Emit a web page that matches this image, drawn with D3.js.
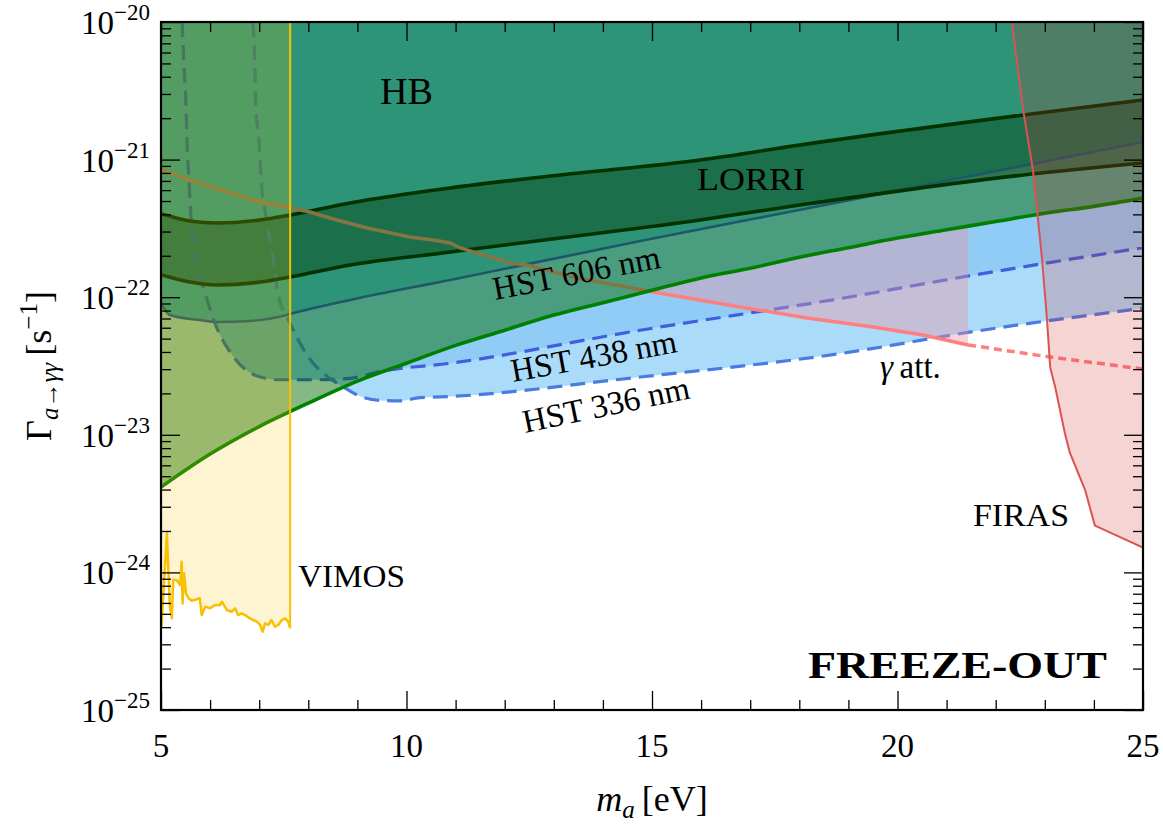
<!DOCTYPE html>
<html>
<head>
<meta charset="utf-8">
<script src="https://cdn.jsdelivr.net/npm/d3@7"></script>
<style>
  body { margin: 0; background: #ffffff; }
  text { font-family: "Liberation Serif", "Times New Roman", serif; fill: #000; }
</style>
</head>
<body>
<svg id="chart" width="1163" height="828"></svg>
<script>
// ---------------------------------------------------------------
// Axis ranges and ticks
// ---------------------------------------------------------------
const massRange = [5, 25];          // m_a [eV]
const rateRange = [1e-25, 1e-20];   // Γ [s^-1]
const xMajorTicks = [5, 10, 15, 20, 25];
const xMinorTicks = [6, 7, 8, 9, 11, 12, 13, 14, 16, 17, 18, 19, 21, 22, 23, 24];
const yExponents = [-25, -24, -23, -22, -21, -20];

// ---------------------------------------------------------------
// Bounds, mass in eV and log10 of the decay rate in s^-1
// ---------------------------------------------------------------
// Horizontal-branch stars
const hbMass = [5, 6, 7, 8, 9, 10, 11, 12, 13, 14, 15, 16, 17, 18, 19, 20, 21, 22, 23, 24, 25];
const hbLog  = [-23.38, -23.14, -22.94, -22.77, -22.61, -22.48, -22.35, -22.24, -22.13, -22.04,
                -21.95, -21.86, -21.79, -21.71, -21.64, -21.57, -21.51, -21.45, -21.39, -21.34, -21.28];

// LORRI (New Horizons) band
const lorriMass     = [5.02, 5.59, 6.14, 7.02, 7.63, 8.85, 10.89, 13.13, 15.98, 18.01, 22.56, 25.0];
const lorriUpperLog = [-21.395, -21.446, -21.461, -21.439, -21.403, -21.315, -21.206, -21.112, -21.003, -20.894, -20.676, -20.567];
const lorriLowerLog = [-21.839, -21.890, -21.911, -21.890, -21.853, -21.766, -21.672, -21.570, -21.439, -21.330, -21.112, -21.025];

// HST filters
const hst606Mass = [5.02, 5.18, 5.79, 6.14, 6.81, 7.48, 7.63, 8.85, 10.89, 14.76, 18.83, 20.87, 25.0];
const hst606Log  = [-22.057, -22.129, -22.166, -22.180, -22.173, -22.137, -22.122, -22.020, -21.875, -21.592, -21.308, -21.163, -20.872];

const hst438Mass = [5.43, 5.47, 5.51, 5.53, 5.57, 5.61, 5.71, 5.90, 6.10, 6.47, 7.02, 7.42, 8.24, 8.85, 9.46, 10.89, 14.76, 18.83, 21.54, 25.0];
const hst438Log  = [-20.00, -20.33, -20.62, -20.88, -21.15, -21.42, -21.71, -21.97, -22.19, -22.43, -22.58, -22.60, -22.60, -22.59, -22.54, -22.48, -22.24, -22.01, -21.84, -21.64];

const hst336Mass = [6.87, 6.91, 6.93, 7.00, 7.04, 7.14, 7.28, 7.38, 7.63, 8.10, 8.44, 8.75, 8.99, 9.46, 9.87, 10.27, 10.68, 14.76, 18.83, 21.54, 25.0];
const hst336Log  = [-20.00, -20.30, -20.62, -20.88, -21.15, -21.42, -21.71, -21.97, -22.19, -22.48, -22.59, -22.66, -22.71, -22.75, -22.754, -22.73, -22.725, -22.58, -22.41, -22.25, -22.08];

// Photon attenuation (solid part, then extrapolated part)
const gammaAttMass = [5.02, 5.59, 6.34, 7.02, 7.57, 8.03, 8.58, 9.20, 10.07, 10.54, 10.89, 11.09, 12.11, 12.45, 13.39, 15.02, 16.79, 18.16, 19.50, 20.52, 21.44];
const gammaAttLog  = [-21.076, -21.148, -21.235, -21.308, -21.344, -21.381, -21.439, -21.497, -21.562, -21.584, -21.606, -21.642, -21.751, -21.766, -21.853, -21.962, -22.071, -22.151, -22.217, -22.275, -22.347];
const gammaAttExtMass = [21.44, 23.11, 25.0];
const gammaAttExtLog  = [-22.347, -22.435, -22.522];
const gammaAttFillFrom = 15.02;

// FIRAS
const firasMass = [22.33, 22.56, 22.76, 22.94, 23.04, 23.11, 23.21, 23.41, 23.51, 23.82, 24.02, 25.0];
const firasLog  = [-20.00, -20.64, -21.08, -21.71, -22.14, -22.51, -22.65, -22.99, -23.13, -23.40, -23.66, -23.82];

// VIMOS
const vimosMass = [5.01, 5.05, 5.12, 5.18, 5.22, 5.25, 5.32, 5.39, 5.42, 5.44, 5.47, 5.51, 5.56, 5.63, 5.79, 5.83,
                   5.90, 6.00, 6.10, 6.20, 6.24, 6.34, 6.44, 6.51, 6.57, 6.64, 6.71, 6.81, 6.88, 6.95, 7.02, 7.07,
                   7.12, 7.19, 7.25, 7.32, 7.39, 7.46, 7.53, 7.59, 7.63];
const vimosLog  = [-24.395, -24.152, -23.716, -24.249, -24.334, -24.055, -24.055, -24.092, -23.922, -24.225, -24.007,
                   -24.152, -24.188, -24.206, -24.188, -24.310, -24.249, -24.261, -24.237, -24.237, -24.213, -24.273,
                   -24.286, -24.261, -24.310, -24.297, -24.310, -24.334, -24.346, -24.358, -24.382, -24.431, -24.370,
                   -24.382, -24.346, -24.395, -24.382, -24.346, -24.334, -24.358, -24.406];

// ---------------------------------------------------------------
// Layout and scales
// ---------------------------------------------------------------
const svg = d3.select("#chart");
const frame = { left: 161, right: 1143, top: 22, bottom: 710 };
const x = d3.scaleLinear().domain(massRange).range([frame.left, frame.right]);
const y = d3.scaleLog().domain(rateRange).range([frame.bottom, frame.top]);

const pts = (ms, ls) => ms.map((m, i) => [m, ls[i]]);
const X = d => x(d[0]);
const Y = d => y(Math.pow(10, d[1]));
const yTop = () => y(rateRange[1]);
const yBottom = () => y(rateRange[0]);

const smoothLine = d3.line().x(X).y(Y).curve(d3.curveMonotoneX);
const straightLine = d3.line().x(X).y(Y);
const smoothToTop = d3.area().x(X).y0(Y).y1(yTop).curve(d3.curveMonotoneX);
const straightToTop = d3.area().x(X).y0(Y).y1(yTop);

const defs = svg.append("defs");
defs.append("clipPath").attr("id", "plot-clip")
  .append("rect").attr("x", frame.left).attr("y", frame.top)
  .attr("width", frame.right - frame.left).attr("height", frame.bottom - frame.top);
defs.append("clipPath").attr("id", "below-hb")
  .append("path")
  .attr("d", d3.area().x(X).y0(Y).y1(yBottom).curve(d3.curveMonotoneX)(pts(hbMass, hbLog)));

const plot = svg.append("g").attr("clip-path", "url(#plot-clip)");

// HST excluded regions
const hst336 = pts(hst336Mass, hst336Log);
const hst438 = pts(hst438Mass, hst438Log);
const hst606 = pts(hst606Mass, hst606Log);
plot.append("path").attr("d", smoothToTop(hst336)).attr("fill", "#aadcfa");
plot.append("path").attr("d", smoothToTop(hst438)).attr("fill", "#90ccf5");
plot.append("path").attr("d", smoothToTop(hst606)).attr("fill", "#58bae7");

// LORRI band
const lorriUpper = pts(lorriMass, lorriUpperLog);
const lorriLower = pts(lorriMass, lorriLowerLog);
plot.append("path")
  .attr("d", d3.area().x(X).y0((d, i) => Y(lorriLower[i])).y1(Y).curve(d3.curveMonotoneX)(lorriUpper))
  .attr("fill", "#000").attr("fill-opacity", 0.375);

// boundary lines
plot.append("path").attr("d", smoothLine(hst606))
  .attr("fill", "none").attr("stroke", "#3c46c8").attr("stroke-width", 2.6);
plot.append("path").attr("d", smoothLine(hst438))
  .attr("fill", "none").attr("stroke", "#3f5fdc").attr("stroke-width", 3.2).attr("stroke-dasharray", "15,8");
plot.append("path").attr("d", smoothLine(hst336))
  .attr("fill", "none").attr("stroke", "#4a7be2").attr("stroke-width", 3.2).attr("stroke-dasharray", "15,8");
[lorriUpper, lorriLower].forEach(l => plot.append("path").attr("d", smoothLine(l))
  .attr("fill", "none").attr("stroke", "#000").attr("stroke-width", 3.6));

// photon attenuation
const gammaAtt = pts(gammaAttMass, gammaAttLog);
plot.append("g").attr("clip-path", "url(#below-hb)")
  .append("path").attr("d", straightToTop(gammaAtt.filter(d => d[0] >= gammaAttFillFrom)))
  .attr("fill", "#ea90a2").attr("fill-opacity", 0.4);
plot.append("path").attr("d", straightLine(gammaAtt))
  .attr("fill", "none").attr("stroke", "#ff7f7f").attr("stroke-width", 3.5);
plot.append("path").attr("d", straightLine(pts(gammaAttExtMass, gammaAttExtLog)))
  .attr("fill", "none").attr("stroke", "#ff7f7f").attr("stroke-width", 3.5).attr("stroke-dasharray", "8,5");

// horizontal-branch stars
const hb = pts(hbMass, hbLog);
plot.append("path").attr("d", smoothToTop(hb)).attr("fill", "#006a00").attr("fill-opacity", 0.48);
plot.append("path").attr("d", smoothLine(hb))
  .attr("fill", "none").attr("stroke", "#008000").attr("stroke-width", 3.6);

// VIMOS
const vimos = pts(vimosMass, vimosLog);
plot.append("path").attr("d", straightToTop(vimos)).attr("fill", "#ffc200").attr("fill-opacity", 0.18);
plot.append("path").attr("d", straightLine(vimos))
  .attr("fill", "none").attr("stroke", "#f8c000").attr("stroke-width", 2.5).attr("stroke-linejoin", "round");
const vimosEdge = vimos[vimos.length - 1];
plot.append("line")
  .attr("x1", X(vimosEdge)).attr("x2", X(vimosEdge))
  .attr("y1", Y(vimosEdge)).attr("y2", yTop())
  .attr("stroke", "#f8c000").attr("stroke-width", 2);

// FIRAS
const firas = pts(firasMass, firasLog);
plot.append("path").attr("d", straightToTop(firas)).attr("fill", "#d62728").attr("fill-opacity", 0.2);
plot.append("path").attr("d", straightLine(firas))
  .attr("fill", "none").attr("stroke", "#dc5252").attr("stroke-width", 2);

// ---------------------------------------------------------------
// Axes: inward ticks on all four sides
// ---------------------------------------------------------------
const yMinor = y.ticks().filter(v => Math.abs(Math.log10(v) - Math.round(Math.log10(v))) > 1e-6);
const yMajor = yExponents.map(e => Math.pow(10, e));
const axes = [
  d3.axisBottom(x).tickValues(xMajorTicks).tickSize(-19), d3.axisBottom(x).tickValues(xMinorTicks).tickSize(-10),
  d3.axisTop(x).tickValues(xMajorTicks).tickSize(-19), d3.axisTop(x).tickValues(xMinorTicks).tickSize(-10),
  d3.axisLeft(y).tickValues(yMajor).tickSize(-19), d3.axisLeft(y).tickValues(yMinor).tickSize(-10),
  d3.axisRight(y).tickValues(yMajor).tickSize(-19), d3.axisRight(y).tickValues(yMinor).tickSize(-10)
];
const shifts = [[0, frame.bottom], [0, frame.bottom], [0, frame.top], [0, frame.top],
                [frame.left, 0], [frame.left, 0], [frame.right, 0], [frame.right, 0]];
axes.forEach((ax, i) => {
  const g = svg.append("g").attr("transform", `translate(${shifts[i][0]},${shifts[i][1]})`)
    .call(ax.tickFormat(""));
  g.select(".domain").remove();
  g.selectAll(".tick line").attr("stroke", "#000").attr("stroke-width", 1.3);
});
svg.append("rect").attr("x", frame.left).attr("y", frame.top)
  .attr("width", frame.right - frame.left).attr("height", frame.bottom - frame.top)
  .attr("fill", "none").attr("stroke", "#000").attr("stroke-width", 2.2);

// tick labels
svg.append("g").selectAll("text").data(xMajorTicks).join("text")
  .attr("x", d => x(d)).attr("y", 757).attr("text-anchor", "middle")
  .attr("font-size", 33).text(d => d);
const yLab = svg.append("g").selectAll("text").data(yExponents).join("text")
  .attr("x", 150).attr("y", d => y(Math.pow(10, d)) + 12).attr("text-anchor", "end").attr("font-size", 33);
yLab.append("tspan").text("10");
yLab.append("tspan").attr("font-size", 23).attr("dy", -14).text(d => "\u2212" + Math.abs(d));

// axis titles
const xt = svg.append("text").attr("x", 652).attr("y", 811).attr("text-anchor", "middle").attr("font-size", 36);
xt.append("tspan").attr("font-style", "italic").text("m");
xt.append("tspan").attr("font-style", "italic").attr("font-size", 25).attr("dy", 7).text("a");
xt.append("tspan").attr("dy", -7).text("\u2009[eV]");

const yt = svg.append("text").attr("transform", "translate(51,366) rotate(-90)")
  .attr("text-anchor", "middle").attr("font-size", 36);
yt.append("tspan").text("\u0393");
yt.append("tspan").attr("font-style", "italic").attr("font-size", 25).attr("dy", 7).text("a\u2192\u03b3\u03b3");
yt.append("tspan").attr("dy", -7).text("\u2009[s");
yt.append("tspan").attr("font-size", 25).attr("dy", -14).text("\u22121");
yt.append("tspan").attr("dy", 14).text("]");

// ---------------------------------------------------------------
// Region labels
// ---------------------------------------------------------------
const label = (txt, px, py, size, len, rot) => {
  const t = svg.append("text").attr("font-size", size)
    .attr("transform", `translate(${px},${py}) rotate(${rot || 0})`).text(txt);
  if (len) t.attr("textLength", len).attr("lengthAdjust", "spacingAndGlyphs");
  return t;
};
label("HB", 380, 104, 38, 53);
label("LORRI", 697, 190, 32, 108);
label("HST 606 nm", 495, 300, 33, 170, -11);
label("HST 438 nm", 513, 382, 33, 168, -10.3);
label("HST 336 nm", 525, 433, 33, 170, -11.8);
label("VIMOS", 298, 587, 32, 107);
label("FIRAS", 973, 526, 32, 96);
const ga = svg.append("text").attr("x", 880).attr("y", 378).attr("font-size", 33);
ga.append("tspan").attr("font-style", "italic").text("\u03b3");
ga.append("tspan").text("\u2009att.");
label("FREEZE-OUT", 808, 678, 38, 299).attr("font-weight", "bold");
</script>
</body>
</html>
